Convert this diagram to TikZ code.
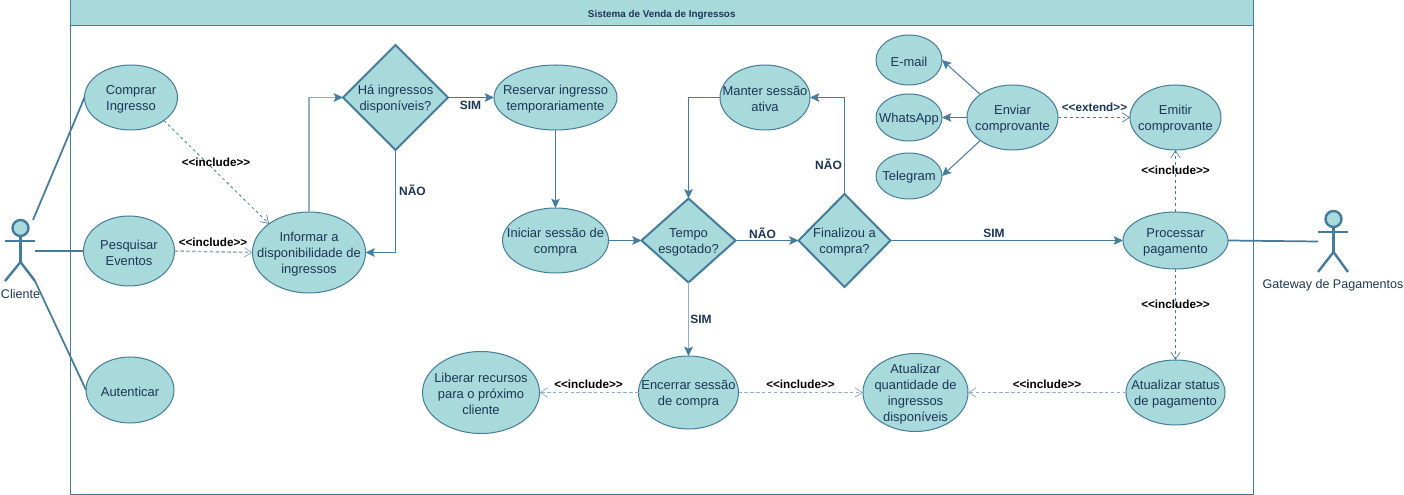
\documentclass[tikz,border=0pt]{standalone}
\usepackage{fontspec}
\setmainfont{Liberation Sans}
\usetikzlibrary{arrows.meta,shapes.geometric}
\definecolor{fillc}{HTML}{A8DADC}
\definecolor{strokec}{HTML}{457B9D}
\definecolor{textc}{HTML}{1D3557}
\newcommand{\inctext}{{<}{<}include{>}{>}}
\newcommand{\exttext}{{<}{<}extend{>}{>}}
\tikzset{
  x=0.75pt,y=-0.75pt,
  uctext/.style={text=textc,font=\fontsize{9.7}{12}\selectfont,align=center,inner sep=0pt,yshift=-1.1pt},
  titletext/.style={text=textc,font=\bfseries\fontsize{7.4}{8}\selectfont,inner sep=0pt,yshift=-1.2pt},
  uc/.style={ellipse,draw=strokec,fill=fillc,line width=0.75pt,inner sep=0pt,outer sep=0pt,label={[uctext]center:{#1}}},
  dec/.style={diamond,draw=strokec,fill=fillc,line width=1.5pt,inner sep=0pt,outer sep=0pt,label={[uctext]center:{#1}}},
  solidarrow/.style={draw=strokec,line width=0.75pt,-{Stealth[length=7pt,width=6.5pt,inset=1.5pt]}},
  softarrow/.style={draw=strokec!60!white,line width=1.1pt,-{Stealth[length=7pt,width=6.5pt,inset=1.5pt,fill=strokec,color=strokec]}},
  dasharrow/.style={draw=strokec,line width=0.6pt,dash pattern=on 2.2pt off 2.2pt,-{Straight Barb[length=5.5pt,width=7pt,line width=0.5pt]}},
  softdash/.style={draw=strokec!60!white,line width=1.1pt,dash pattern=on 2.6pt off 1.8pt,-{Straight Barb[length=5.5pt,width=7pt,line width=0.6pt]}},
  assoc/.style={draw=strokec,line width=1.3pt},
  inc/.style={font=\bfseries\fontsize{8.8}{10}\selectfont,text=black,inner sep=0pt},
  lab/.style={font=\bfseries\fontsize{9}{10}\selectfont,text=textc,inner sep=0pt},
  actorline/.style={draw=strokec,line width=1.8pt},
  actorhead/.style={circle,draw=strokec,fill=fillc,line width=1.8pt,inner sep=0pt,minimum size=12pt},
  actorlab/.style={font=\fontsize{9.4}{11}\selectfont,text=textc,inner sep=0pt},
}
\begin{document}
\begin{tikzpicture}
\useasboundingbox (0,0) rectangle (1404,495);
% frame
\node[draw=strokec,line width=0.75pt,fill=white,minimum width=887pt,minimum height=370.2pt,inner sep=0pt,outer sep=0pt] (frame) at (661.75,247.25) {};
\node[draw=strokec,line width=0.75pt,fill=fillc,minimum width=887pt,minimum height=19.5pt,inner sep=0pt,outer sep=0pt,label={[titletext]center:Sistema de Venda de Ingressos}] (title) at (661.75,13) {};
% use cases
\node[uc={Comprar\\Ingresso},minimum width=69.75pt,minimum height=48.75pt] (comprar) at (131,97.5) {};
\node[uc={Pesquisar\\Eventos},minimum width=68.25pt,minimum height=52.5pt] (pesquisar) at (129,251) {};
\node[uc={Autenticar},minimum width=66pt,minimum height=49.5pt] (autenticar) at (130,390) {};
\node[uc={Informar a\\disponibilidade de\\ingressos},minimum width=84.75pt,minimum height=60.75pt] (informar) at (309,252.5) {};
\node[dec={Há ingressos\\disponíveis?},minimum width=78.75pt,minimum height=78.75pt] (ha) at (395.5,97.5) {};
\node[uc={Reservar ingresso\\temporariamente},minimum width=92.25pt,minimum height=48.75pt] (reservar) at (555.5,97.5) {};
\node[uc={Iniciar sessão de\\compra},minimum width=79.5pt,minimum height=48.75pt] (iniciar) at (555.5,240.5) {};
\node[uc={Manter sessão\\ativa},minimum width=67.5pt,minimum height=48.75pt] (manter) at (765,97.5) {};
\node[dec={Tempo\\esgotado?},minimum width=70.5pt,minimum height=63pt] (tempo) at (688.5,240.5) {};
\node[dec={Finalizou a\\compra?},minimum width=69pt,minimum height=69.75pt] (finalizou) at (844.5,240.5) {};
\node[uc={E-mail},minimum width=49.5pt,minimum height=37.5pt] (email) at (909,60) {};
\node[uc={WhatsApp},minimum width=49.5pt,minimum height=35.25pt] (whats) at (909,117.5) {};
\node[uc={Telegram},minimum width=49.5pt,minimum height=34.5pt] (telegram) at (909,176) {};
\node[uc={Enviar\\comprovante},minimum width=68.25pt,minimum height=48.75pt] (enviar) at (1012.5,117.5) {};
\node[uc={Emitir\\comprovante},minimum width=68.25pt,minimum height=48.75pt] (emitir) at (1175.5,117.5) {};
\node[uc={Processar\\pagamento},minimum width=78.75pt,minimum height=42.75pt] (processar) at (1175.5,240.5) {};
\node[uc={Atualizar status\\de pagamento},minimum width=74.25pt,minimum height=48.75pt] (status) at (1175.5,392.5) {};
\node[uc={Atualizar\\quantidade de\\ingressos\\disponíveis},minimum width=78.75pt,minimum height=58.5pt] (quant) at (915.5,392.5) {};
\node[uc={Encerrar sessão\\de compra},minimum width=75pt,minimum height=54.75pt] (encerrar) at (688.5,392.5) {};
\node[uc={Liberar recursos\\para o próximo\\cliente},minimum width=87.75pt,minimum height=61.5pt] (liberar) at (481,392.5) {};
% actor Cliente
\node[actorhead] (chead) at (20.5,228) {};
\coordinate (cwaist) at (20.5,262);
\coordinate (carml) at (5,241);
\coordinate (carmr) at (35,241);
\coordinate (clegl) at (5,281);
\coordinate (clegr) at (35,281);
\coordinate (ctop) at (33,220);
\coordinate (cmid) at (35,251);
\draw[actorline] (chead) -- (cwaist);
\draw[actorline] (carml) -- (carmr);
\draw[actorline] (clegl) -- (cwaist) -- (clegr);
\node[actorlab] (clabel) at (20.5,294.5) {Cliente};
% actor Gateway
\node[actorhead] (ghead) at (1333.5,219) {};
\coordinate (gwaist) at (1333.5,252);
\coordinate (garml) at (1318,232);
\coordinate (garmr) at (1348,232);
\coordinate (glegl) at (1318,272);
\coordinate (glegr) at (1348,272);
\coordinate (gmid) at (1318,241.5);
\draw[actorline] (ghead) -- (gwaist);
\draw[actorline] (garml) -- (garmr);
\draw[actorline] (glegl) -- (gwaist) -- (glegr);
\node[actorlab] (glabel) at (1333,285.5) {Gateway de Pagamentos};
% associations
\draw[assoc] (ctop) -- (comprar.west);
\draw[assoc] (cmid) -- (pesquisar.west);
\draw[assoc] (clegr) -- (autenticar.west);
\draw[assoc] (processar.east) -- (gmid);
% solid flows
\draw[softarrow] (informar.north) -- (309,97.5) -- (ha.west);
\draw[solidarrow] (ha.south) -- (395.5,252.5) -- (informar.east);
\draw[solidarrow] (ha.east) -- (reservar.west);
\draw[solidarrow] (reservar.south) -- (iniciar.north);
\draw[solidarrow] (iniciar.east) -- (tempo.west);
\draw[solidarrow] (tempo.east) -- (finalizou.west);
\draw[solidarrow] (finalizou.north) -- (844.5,97.5) -- (manter.east);
\draw[solidarrow] (manter.west) -- (688.5,97.5) -- (tempo.north);
\draw[softarrow] (tempo.south) -- (encerrar.north);
\draw[solidarrow] (finalizou.east) -- (processar.west);
\draw[solidarrow] (enviar.north west) -- (email.east);
\draw[solidarrow] (enviar.west) -- (whats.east);
\draw[solidarrow] (enviar.south west) -- (telegram.east);
% dashed
\draw[dasharrow] (comprar.south east) -- (informar.north west);
\draw[softdash] (pesquisar.east) -- (informar.west);
\draw[dasharrow] (enviar.east) -- (emitir.west);
\draw[dasharrow] (processar.north) -- (emitir.south);
\draw[dasharrow] (processar.south) -- (status.north);
\draw[softdash] (status.west) -- (quant.east);
\draw[softdash] (encerrar.east) -- (quant.west);
\draw[softdash] (encerrar.west) -- (liberar.east);
% labels
\node[inc] (l1) at (216,162.5) {\inctext};
\node[inc] (l2) at (213,242.5) {\inctext};
\node[inc] (l3) at (588.5,384) {\inctext};
\node[inc] (l4) at (800.5,384) {\inctext};
\node[inc] (l5) at (1047,384) {\inctext};
\node[inc] (l6) at (1175.5,304.5) {\inctext};
\node[inc] (l7) at (1175.5,170.5) {\inctext};
\node[inc,text=textc] (l8) at (1094.5,107.5) {\exttext};
\node[lab] (s1) at (470.5,105) {SIM};
\node[lab] (n1) at (412.5,190.5) {NÃO};
\node[lab] (n2) at (762.5,233.5) {NÃO};
\node[lab] (n3) at (828.5,164.5) {NÃO};
\node[lab] (s2) at (994,233.5) {SIM};
\node[lab] (s3) at (701,319.5) {SIM};
\end{tikzpicture}
\end{document}
